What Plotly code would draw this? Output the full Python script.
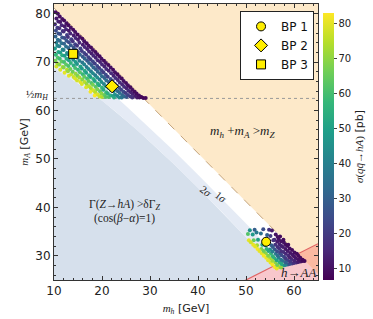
import plotly.graph_objects as go

# ---------------- data ----------------
# excluded-region boundaries (m_h, m_A) in GeV
mh_2sig = [10, 12.5, 15, 17.5, 20, 22.5, 25, 27.5, 30, 35, 40, 45, 50, 55, 58]
mA_2sig = [68.66, 67.25, 65.69, 63.95, 62.05, 60.06, 57.95, 55.80, 53.54, 48.90, 44.06, 39.04, 33.83, 28.38, 24.94]
mh_1sig = [10, 12.5, 15, 17.5, 20, 22.5, 25, 27.5, 30, 35, 40, 45, 50, 55, 60, 61]
mA_1sig = [72.63, 71.02, 69.26, 67.33, 65.28, 63.15, 60.94, 58.68, 56.36, 51.62, 46.75, 41.77, 36.67, 31.45, 26.04, 24.93]
mZ_line_mh = [10, 60.79, 65]
mZ_line_mA = [81.19, 30.40, 26.19]
hAA_line_mh = [48, 60.79, 65]
hAA_line_mA = [24, 30.40, 32.5]
half_mH = 62.5

# scan points: upper band
up_mh = [10.3,10.5,10.2,10.4,10.3,10.5,10.2,10.4,10.3,10.5,
         10.8,10.9,10.7,10.9,10.8,10.7,10.9,10.8,10.7,
         11.2,11.3,11.1,11.3,11.2,11.1,11.3,11.2,11.1,11.3,
         11.7,11.6,11.8,11.7,11.6,11.8,11.7,11.6,11.8,
         12.1,12.2,12.0,12.2,12.1,12.0,12.2,12.1,12.0,12.2,
         12.6,12.5,12.7,12.6,12.5,12.7,12.6,12.5,12.7,
         13.0,13.1,12.9,13.1,13.0,12.9,13.1,13.0,12.9,13.1,
         13.5,13.4,13.6,13.5,13.4,13.6,13.5,13.4,13.6,
         14.0,14.1,13.9,14.1,14.0,14.0,14.1,13.9,14.1,
         14.4,14.5,14.4,14.5,14.4,14.5,14.4,14.5,14.4,
         14.9,15.0,14.8,15.0,14.9,14.8,15.0,14.9,14.8,
         15.4,15.3,15.5,15.4,15.3,15.5,15.4,15.3,15.5,
         15.9,16.0,15.8,16.0,15.9,15.8,16.0,15.9,15.8,
         16.3,16.4,16.3,16.4,16.3,16.4,16.3,16.4,
         16.8,16.9,16.7,16.9,16.8,16.7,16.9,16.8,16.7,
         17.2,17.3,17.2,17.3,17.2,17.3,17.2,17.3,
         17.7,17.8,17.6,17.8,17.7,17.6,17.8,17.7,17.6,
         18.1,18.2,18.1,18.2,18.1,18.2,18.1,18.2,
         18.6,18.7,18.5,18.7,18.6,18.5,18.7,18.6,18.5,
         19.0,19.1,19.0,19.1,19.0,19.1,19.0,19.1,
         19.5,19.6,19.4,19.6,19.5,19.4,19.6,19.5,
         19.9,20.0,19.9,20.0,19.9,20.0,19.9,20.0,
         20.4,20.5,20.3,20.5,20.4,20.3,20.5,
         20.8,20.9,20.8,20.9,20.8,20.9,20.8,
         21.3,21.4,21.2,21.4,21.3,21.2,21.4,
         21.8,21.9,21.8,21.9,21.8,
         22.3,22.4,22.2,22.4,22.3,22.5,
         22.7,22.8,22.7,22.8,22.7,
         23.2,23.3,23.1,23.3,23.2,
         23.6,23.7,23.6,23.7,23.6,
         24.1,24.2,24.0,24.2,24.1,
         24.5,24.6,24.5,24.6,
         25.0,25.1,24.9,25.1,
         25.4,25.5,25.4,
         25.9,26.0,25.9,
         26.3,26.4,26.3,
         26.8,26.9,
         27.2,27.3,
         27.7,27.8,
         28.2,28.6,29.1]
up_mA = [80.3,79.0,77.8,76.5,75.3,74.0,72.8,71.5,70.3,69.1,
         80.0,78.4,77.1,75.9,74.6,73.4,72.1,70.9,69.7,
         79.4,78.3,77.0,75.8,74.4,73.3,72.0,70.7,69.5,68.4,
         78.9,77.6,76.4,75.1,73.9,72.6,71.4,70.1,69.0,
         78.6,77.4,76.3,75.0,73.8,72.5,71.3,70.0,68.9,67.8,
         78.0,76.8,75.6,74.4,73.2,71.9,70.7,69.5,68.4,
         77.6,76.5,75.2,74.1,72.9,71.6,70.4,69.2,68.1,67.2,
         77.1,75.9,74.7,73.5,72.2,71.0,69.8,68.6,67.5,
         76.7,75.5,74.3,73.0,71.8,70.5,69.3,68.0,66.9,
         76.2,75.0,73.7,72.5,71.2,70.0,68.8,67.6,66.6,
         75.7,74.6,73.4,72.1,70.9,69.6,68.4,67.2,66.2,
         75.2,74.0,72.8,71.5,70.3,69.1,67.9,66.8,65.9,
         74.8,73.6,72.3,71.1,69.9,68.7,67.5,66.4,65.5,
         74.3,73.1,71.9,70.7,69.5,68.2,67.0,65.9,
         73.9,72.7,71.5,70.3,69.0,67.8,66.6,65.5,64.8,
         73.4,72.2,71.0,69.8,68.6,67.3,66.1,65.0,
         73.0,71.8,70.6,69.4,68.1,66.9,65.7,64.6,63.9,
         72.5,71.3,70.1,68.9,67.7,66.5,65.3,64.2,
         72.1,70.9,69.7,68.5,67.3,66.1,64.9,63.8,63.1,
         71.6,70.4,69.2,68.0,66.8,65.6,64.4,63.3,
         71.2,70.0,68.8,67.6,66.4,65.2,64.0,62.9,
         70.7,69.5,68.3,67.1,65.9,64.7,63.5,62.8,
         70.3,69.1,67.9,66.7,65.5,64.3,63.2,
         69.8,68.6,67.4,66.2,65.0,63.8,62.8,
         69.4,68.2,67.0,65.9,64.7,63.5,62.8,
         68.9,67.7,66.5,64.2,63.1,
         68.4,67.2,66.1,64.0,63.0,62.7,
         67.9,66.7,65.5,64.4,63.3,
         67.5,66.3,65.1,64.0,63.0,
         67.0,65.8,64.7,63.6,62.7,
         66.6,65.4,64.3,63.2,62.7,
         66.1,64.9,63.9,62.9,
         65.7,64.6,63.6,62.8,
         65.2,64.1,63.2,
         64.8,63.8,62.9,
         64.3,63.4,62.7,
         63.9,63.0,
         63.5,62.7,
         63.1,62.7,
         62.8,62.6,62.6]
up_sig = [9,12,17,24,31,39,48,57,67,78,
          10,14,21,27,35,44,53,62,73,
          9,12,17,24,32,39,49,59,69,79,
          10,15,20,28,36,45,54,64,74,
          9,12,17,24,31,40,49,60,69,80,
          10,15,21,28,35,45,54,64,75,
          9,12,18,24,32,42,51,61,71,80,
          10,15,21,28,37,47,56,66,77,
          9,13,18,26,34,44,54,66,77,
          10,15,22,30,39,49,60,71,79,
          9,13,19,27,35,46,57,68,78,
          10,15,22,31,40,51,62,73,80,
          9,13,20,28,37,47,58,69,79,
          10,15,22,31,41,53,64,75,
          9,13,20,28,38,49,60,71,79,
          10,15,22,31,42,54,65,76,
          9,13,20,29,39,50,62,74,82,
          10,15,23,32,43,55,67,78,
          9,14,21,29,39,50,63,75,83,
          10,15,23,33,44,56,68,79,
          9,14,21,30,40,52,64,77,
          10,15,24,34,45,57,70,74,
          9,14,21,31,41,53,65,
          10,16,25,35,46,58,62,
          9,14,22,31,42,54,61,
          10,16,25,45,56,
          9,14,22,40,50,53,
          10,17,27,36,46,
          9,15,23,32,42,
          10,17,26,36,44,
          9,15,23,32,37,
          10,17,25,33,
          9,14,21,28,
          10,16,22,
          9,14,20,
          10,14,18,
          9,13,
          9,12,
          9,10,
          8,8,8]

# scan points: lower cluster
lo_mh = [50.6,50.4,50.8,51.5,51.6,51.4,51.8,52.4,52.3,52.5,52.2,
         53.3,53.2,53.4,53.1,53.6,54.2,54.1,54.3,54.0,54.4,54.8,
         55.1,55.0,55.2,55.0,55.3,55.1,55.4,
         56.0,56.1,55.9,56.2,56.0,56.1,55.9,56.2,
         56.9,57.0,56.8,57.1,56.9,57.0,56.8,57.1,
         57.8,57.7,57.9,57.8,57.7,57.9,57.8,
         58.7,58.6,58.8,58.7,58.6,58.8,
         59.6,59.5,59.7,59.6,60.5,60.4,60.6,61.4,61.3,62.2,
         51.0,51.9,52.8,53.7,53.7,54.6,54.6,54.7,55.5,55.5,55.6,55.5,55.6,55.7,
         56.4,56.5,56.4,56.6,56.5,56.6,56.5,56.6,
         57.3,57.4,57.3,57.4,57.3,57.4,57.3,
         58.2,58.3,58.2,58.3,58.2,58.3,
         59.1,59.2,59.1,59.2,59.1,60.0,60.1,60.0,60.1,60.9,61.0,60.9,61.8,61.8]
lo_mA = [33.2,34.5,35.3,32.3,33.2,34.4,35.4,31.4,32.2,33.3,34.8,
         30.5,31.4,32.3,34.6,35.5,29.6,30.5,31.4,32.2,34.3,35.4,
         28.6,29.5,30.4,31.3,32.2,34.1,35.2,
         27.7,28.6,29.5,30.4,31.3,32.3,33.3,34.4,
         27.7,28.6,29.6,30.5,31.5,32.4,33.4,34.0,
         28.0,28.9,29.8,30.8,31.8,32.7,33.3,
         28.2,29.1,30.0,31.0,32.0,32.3,
         28.4,29.3,30.2,31.2,28.6,29.5,30.4,28.8,29.6,28.9,
         32.8,31.9,31.0,30.0,31.0,29.1,30.0,31.0,28.2,29.0,29.9,30.9,31.8,33.2,
         27.4,28.1,29.1,30.0,30.9,31.8,32.9,33.9,
         27.6,28.3,29.2,30.1,31.0,32.0,33.0,
         28.1,28.6,29.5,30.4,31.4,32.3,
         28.3,28.8,29.7,30.6,31.5,28.5,29.0,29.9,30.7,28.7,29.2,30.0,28.9,29.2]
lo_sig = [80,62,45,81,65,48,30,82,72,50,38,
          80,68,52,35,25,81,70,55,45,30,18,
          80,72,58,44,30,20,12,
          82,70,55,38,26,18,14,10,
          75,55,40,25,18,14,11,9,
          50,36,24,17,13,10,9,
          30,22,16,12,10,9,
          20,16,12,9,15,11,9,11,9,8,
          78,80,80,82,66,80,68,52,82,72,56,40,28,18,
          80,66,50,34,24,17,12,10,
          70,52,36,24,17,13,10,
          42,30,20,15,11,9,
          25,19,14,11,9,17,14,11,9,12,10,9,9,8]

# benchmark points
bp_names = ["BP 1", "BP 2", "BP 3"]
bp_mh = [54.2, 22.1, 14.0]
bp_mA = [32.9, 65.0, 71.7]
bp_symbols = ["circle", "diamond", "square"]

sig_min, sig_max = 6.6, 83.0
cbar_ticks = [10, 20, 30, 40, 50, 60, 70, 80]

SERIF = "Liberation Serif"
SANS = "DejaVu Sans"

fig = go.Figure()

def region(xs, ys, color):
    fig.add_trace(go.Scatter(x=xs, y=ys, mode="lines", fill="toself", fillcolor=color,
                             line=dict(width=0, color=color), hoverinfo="skip", showlegend=False))

# dark blue excluded region (2 sigma)
region([10] + mh_2sig + [mh_2sig[-1]], [24] + mA_2sig + [24], "#d6e0ec")
# light band between 2 sigma and 1 sigma
region(mh_2sig + mh_1sig[::-1], mA_2sig + mA_1sig[::-1], "#e5ebf5")
# m_h + m_A > m_Z
region([mZ_line_mh[0], mZ_line_mh[2], 65, 10], [mZ_line_mA[0], mZ_line_mA[2], 83, 83], "#fde9c9")
# h -> AA (pink) and its overlap with the m_Z region (salmon)
region([hAA_line_mh[0], hAA_line_mh[1], mZ_line_mh[2], 65, hAA_line_mh[0]],
       [hAA_line_mA[0], hAA_line_mA[1], mZ_line_mA[2], 24, 24], "#f8c7cc")
region([hAA_line_mh[1], hAA_line_mh[2], mZ_line_mh[2]],
       [hAA_line_mA[1], hAA_line_mA[2], mZ_line_mA[2]], "#fbb9a1")

# boundary lines
fig.add_trace(go.Scatter(x=mZ_line_mh[:2], y=mZ_line_mA[:2], mode="lines",
                         line=dict(color="#c4a47c", width=1, dash="dash"), hoverinfo="skip", showlegend=False))
fig.add_trace(go.Scatter(x=hAA_line_mh, y=hAA_line_mA, mode="lines",
                         line=dict(color="#e06464", width=1.2), hoverinfo="skip", showlegend=False))
fig.add_trace(go.Scatter(x=[10, 65], y=[half_mH, half_mH], mode="lines",
                         line=dict(color="#999999", width=1, dash="dot"), hoverinfo="skip", showlegend=False))

# scan points
for xs, ys, cs in [(up_mh, up_mA, up_sig), (lo_mh, lo_mA, lo_sig)]:
    fig.add_trace(go.Scatter(x=xs, y=ys, mode="markers",
                             marker=dict(size=4, color=cs, coloraxis="coloraxis", line=dict(width=0)),
                             hoverinfo="skip", showlegend=False))

# benchmark points
for name, x, y, sym in zip(bp_names, bp_mh, bp_mA, bp_symbols):
    fig.add_trace(go.Scatter(x=[x], y=[y], mode="markers", name=name,
                             marker=dict(symbol=sym, size=10 if sym == "diamond" else 9,
                                         color="#ffee00", line=dict(color="black", width=1))))

annos = [
    dict(x=49.2, y=55.6, text="<i>m<sub>h</sub></i> +<i>m<sub>A</sub></i> ><i>m<sub>Z</sub></i>", size=13, angle=0),
    dict(x=24.6, y=40.4, text="Γ(<i>Z</i>→<i>hA</i>) >δΓ<sub><i>Z</i></sub>", size=11.5, angle=0),
    dict(x=24.6, y=37.6, text="(cos(<i>β</i>−<i>α</i>)=1)", size=11.5, angle=0),
    dict(x=61.0, y=26.6, text="<i>h</i>→<i>AA</i>", size=13, angle=0),
    dict(x=41.6, y=43.3, text="2<i>σ</i>", size=11, angle=38),
    dict(x=44.8, y=42.1, text="1<i>σ</i>", size=11, angle=38),
]
for a in annos:
    fig.add_annotation(x=a["x"], y=a["y"], text=a["text"], showarrow=False, textangle=a["angle"],
                       font=dict(family=SERIF, size=a["size"], color="#222222"))

fig.add_annotation(xref="paper", x=0, y=half_mH, yref="y", text="½<i>m<sub>H</sub></i>", showarrow=False,
                   xanchor="right", xshift=-4, yshift=3, font=dict(family=SERIF, size=11, color="#222222"))

axis_common = dict(showline=True, linecolor="#333333", linewidth=1, mirror="ticks", ticks="inside",
                   ticklen=4, tickcolor="#333333", showgrid=False, zeroline=False,
                   tickfont=dict(family=SANS, size=12, color="#222222"),
                   minor=dict(ticks="inside", ticklen=2, tickcolor="#333333", dtick=2))

fig.update_layout(
    width=373, height=319,
    margin=dict(l=54, r=55, t=4, b=39),
    plot_bgcolor="white", paper_bgcolor="white",
    xaxis=dict(range=[10, 65], dtick=10, tick0=10,
               title=dict(text='<span style="font-family:Liberation Serif"><i>m<sub>h</sub></i></span> [GeV]',
                          font=dict(family=SANS, size=11, color="#222222"), standoff=6),
               **axis_common),
    yaxis=dict(range=[25, 82], dtick=10, tick0=30,
               title=dict(text='<span style="font-family:Liberation Serif"><i>m<sub>A</sub></i></span> [GeV]',
                          font=dict(family=SANS, size=11, color="#222222"), standoff=4),
               **axis_common),
    coloraxis=dict(colorscale="Viridis", cmin=sig_min, cmax=sig_max,
                   colorbar=dict(x=1.019, xanchor="left", xpad=0, y=0, yanchor="bottom", ypad=0,
                                 len=0.967, thickness=11, outlinewidth=0,
                                 tickvals=cbar_ticks, ticks="outside", ticklen=3,
                                 tickfont=dict(family=SANS, size=10, color="#222222"),
                                 title=dict(text='<span style="font-family:Liberation Serif"><i>σ</i>(<i>q</i><i>q̄</i>→<i>hA</i>)</span> [pb]',
                                            side="right", font=dict(family=SANS, size=11, color="#222222")))),
    legend=dict(x=0.985, y=0.975, xanchor="right", yanchor="top", bgcolor="white",
                bordercolor="#222222", borderwidth=1, font=dict(family=SANS, size=12, color="#111111"),
                tracegroupgap=0),
)

fig.write_html("out.html", config={"displayModeBar": False},
               post_script="document.body.style.margin='0';document.body.style.overflow='hidden';")
